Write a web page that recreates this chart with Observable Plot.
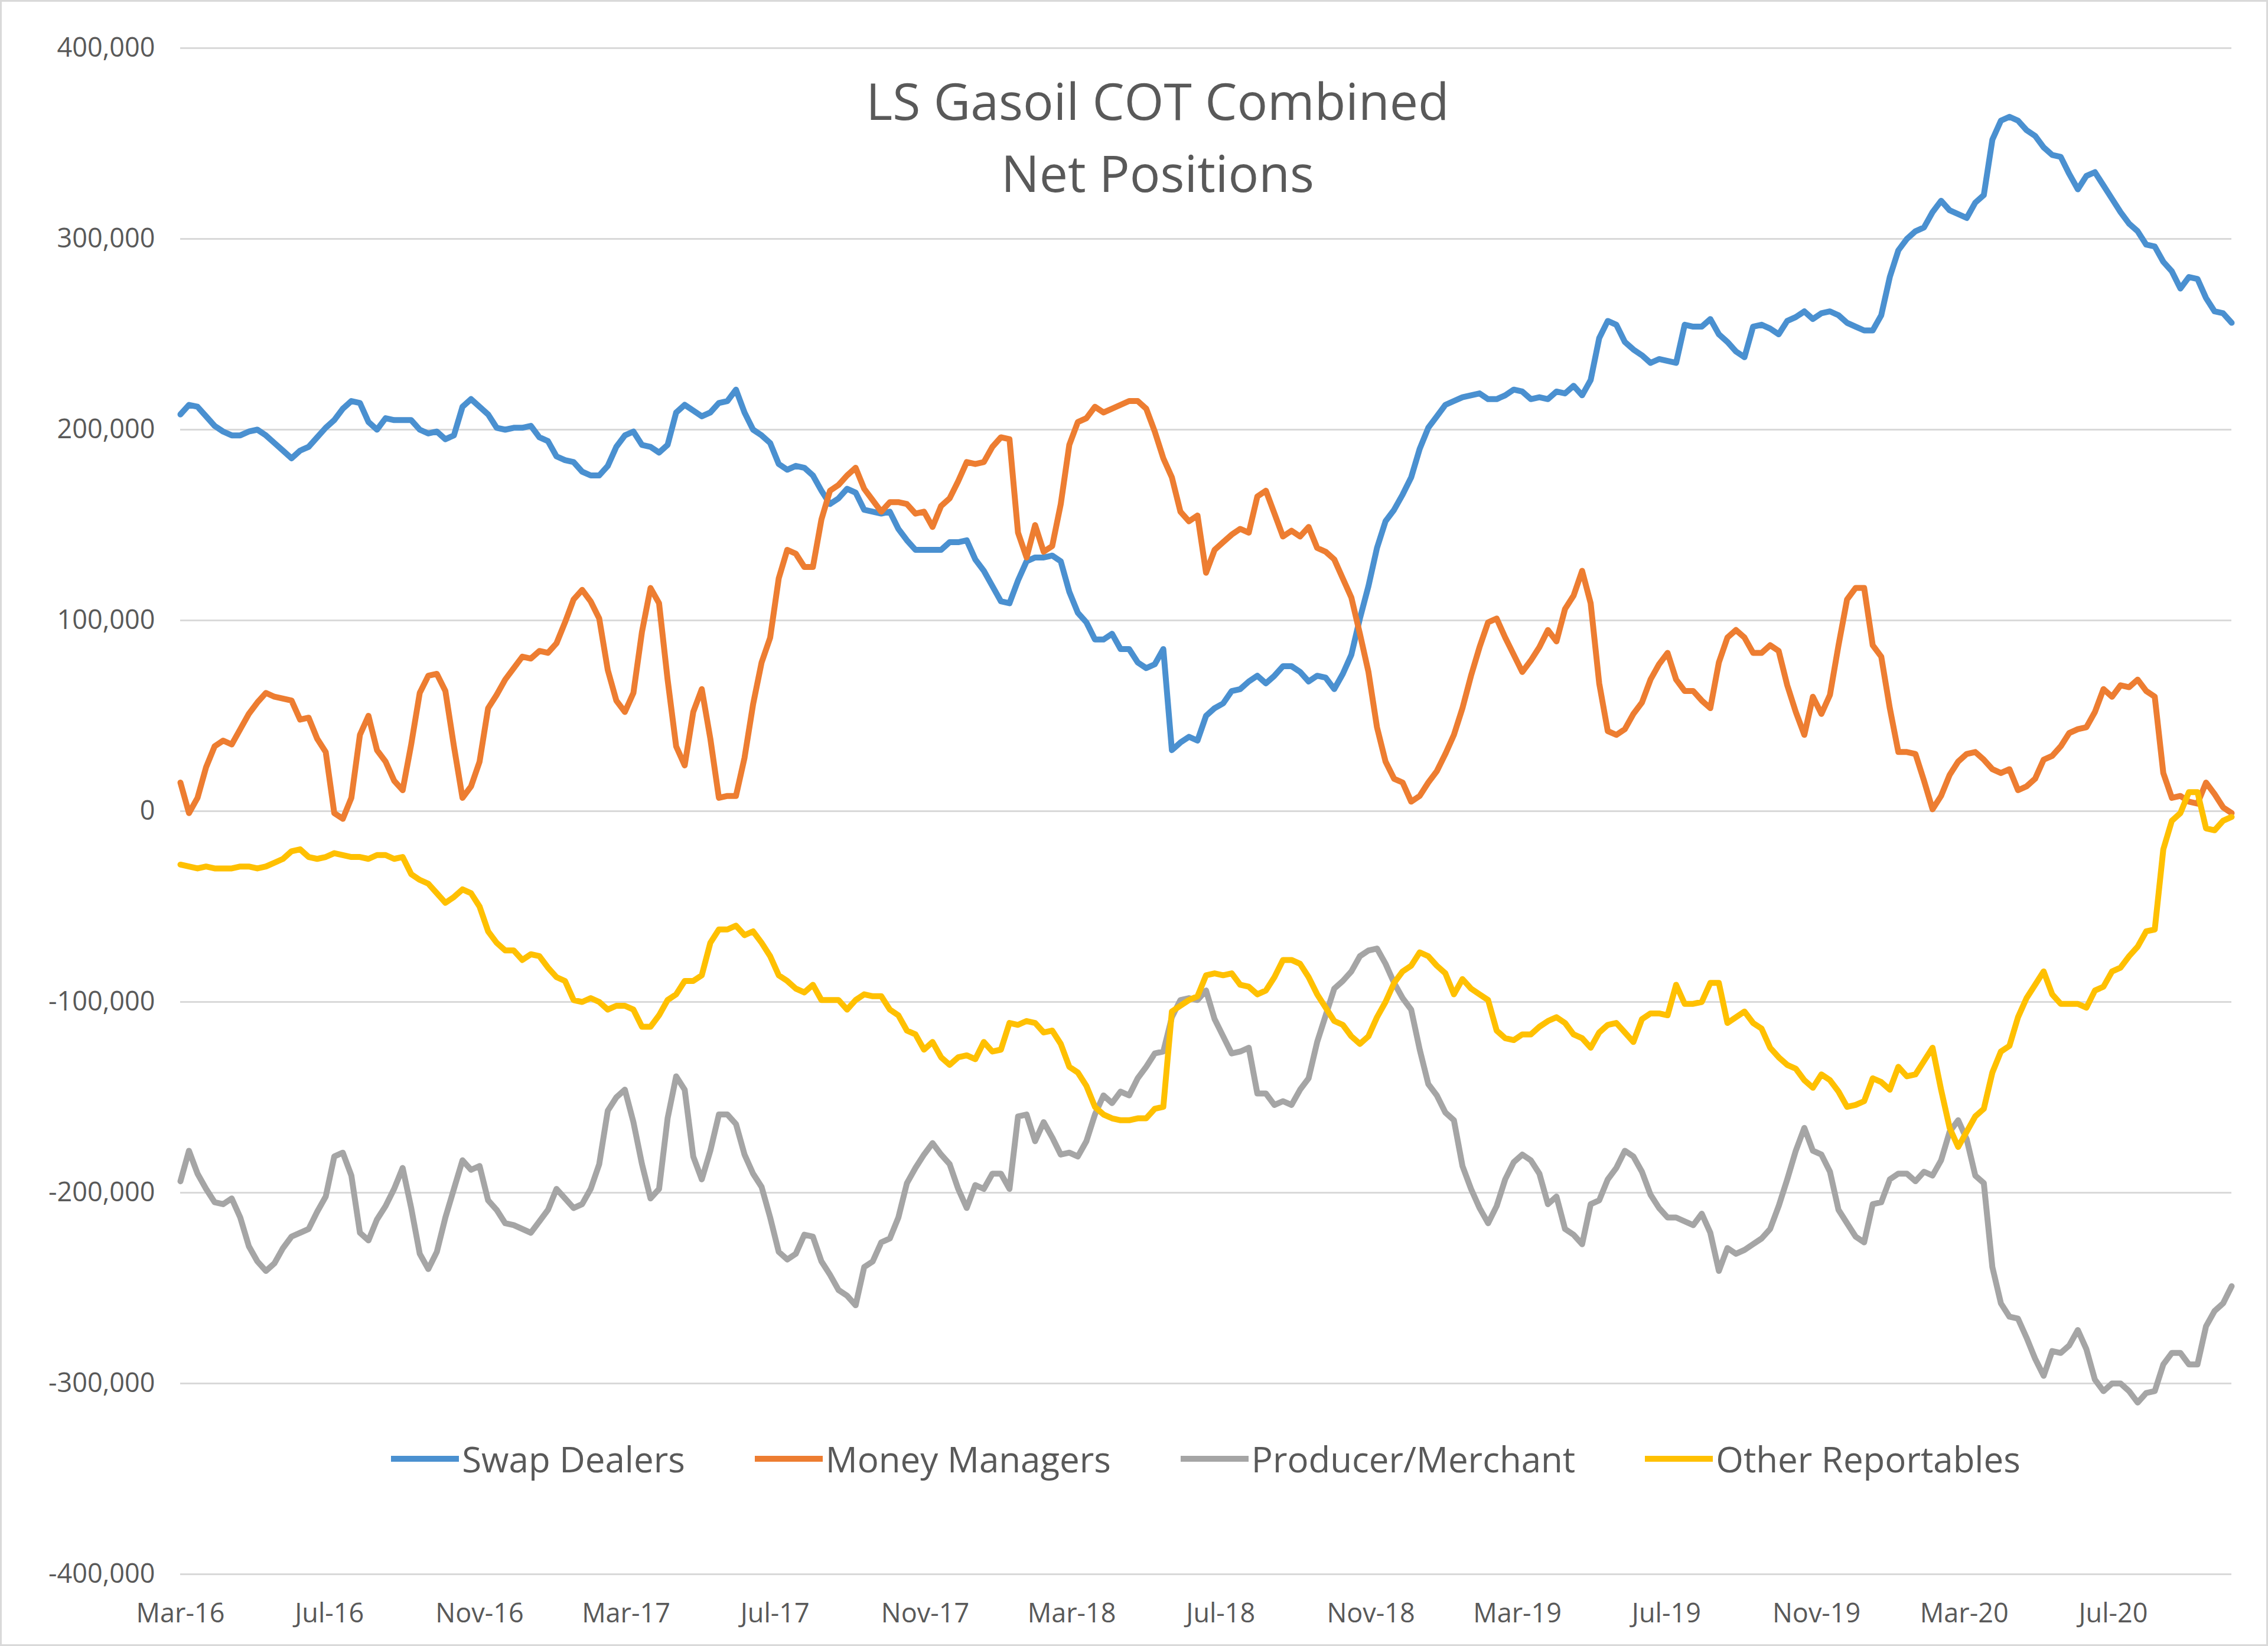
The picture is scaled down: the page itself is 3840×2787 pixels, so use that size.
<!DOCTYPE html>
<html>
<head>
<meta charset="utf-8">
<script src="https://cdn.jsdelivr.net/npm/d3@7"></script>
<script src="https://cdn.jsdelivr.net/npm/@observablehq/plot@0.6"></script>
<style>
  html, body { margin: 0; padding: 0; background: #fff; }
  #chart { position: relative; width: 3840px; height: 2787px; background: #fff; overflow: hidden;
           font-family: "Open Sans", sans-serif; color: #595959; }
  #frame { position: absolute; left: 0; top: 0; width: 3840px; height: 2787px; box-sizing: border-box;
           border: 3px solid #d9d9d9; pointer-events: none; }
  #title { position: absolute; left: 0; top: 109px; width: 3920px; text-align: center;
           font-size: 86px; line-height: 122px; color: #595959; }
  #legend { position: absolute; left: 305px; top: 2430px; width: 3473px; display: flex;
            justify-content: center; align-items: center; font-size: 60px; line-height: 80px; color: #595959; }
  .item { display: flex; align-items: center; margin: 0 59px; }
  .item svg { display: block; margin-right: 5px; }
</style>
</head>
<body>
<div id="chart">
  <div id="plot"></div>
  <div id="title">LS Gasoil COT Combined<br>Net Positions</div>
  <div id="legend"></div>
  <div id="frame"></div>
</div>
<script>
// Weekly reports (Tuesdays), first report and number of weeks
const firstReport = "2016-03-01";
const weekCount = 241;

// Net positions, thousands of contracts, one value per week
const swapDealers = [
  208,213,212,207,202,199,197,197,199,200,197,193,189,185,189,191,196,201,205,211,
  215,214,204,200,206,205,205,205,200,198,199,195,197,212,216,212,208,201,200,201,
  201,202,196,194,186,184,183,178,176,176,181,191,197,199,192,191,188,192,209,213,
  210,207,209,214,215,221,209,200,197,193,182,179,181,180,176,168,161,164,169,167,
  158,157,156,157,148,142,137,137,137,137,141,141,142,132,126,118,110,109,121,131,
  133,133,134,131,115,104,99,90,90,93,85,85,78,75,77,85,32,36,39,37,
  50,54,56.5,63,64,68,71,67,71,76,76,73,68,71,70,64,72,82,101,118,
  138,152,158,166,175,190,201,207,213,215,217,218,219,216,216,218,221,220,216,217,
  216,220,219,223,218,226,248,257,255,246,242,239,235,237,236,235,255,254,254,258,
  250,246,241,238,254,255,253,250,257,259,262,258,261,262,260,256,254,252,252,260,
  280,294,300,304,306,314,320,315,313,311,319,323,352,362,364,362,357,354,348,344,
  343,334,326,333,335,328,321,314,308,304,297,296,288,283,274,280,279,269,262,261,
  256
];
const moneyManagers = [
  15,-1,7,23,34,37,35,43,51,57,62,60,59,58,48,49,38,31,-1,-4,
  7,40,50,32,26,16,11,35,62,71,72,63,34,7,13,26,54,61,69,75,
  81,80,84,83,88,99,111,116,110,101,74,58,52,62,94,117,109,69,34,24,
  52,64,38,7,8,8,28,56,78,91,122,137,135,128,128,153,168,171,176,180,
  169,163,157,162,162,161,156,157,149,160,164,173,183,182,183,191,196,195,146,133,
  150,136,139,161,192,204,206,212,209,211,213,215,215,211,199,185,175,157,152,155,
  125,137,141,145,148,146,165,168,156,144,147,144,149,138,136,132,122,112,93,73,
  44,26,17,15,5,8,15,21,30,40,54,71,86,99,101,91,82,73,79,86,
  95,89,106,113,126,109,67,42,40,43,51,57,69,77,83,69,63,63,58,54,
  78,91,95,91,83,83,87,84,66,52,40,60,51,61,87,111,117,117,87,81,
  54,31,31,30,16,1,8,19,26,30,31,27,22,20,22,11,13,17,27,29,
  34,41,43,44,52,64,60,66,65,69,63,60,20,7,8,5,4,15,9,2,
  -1
];
const producerMerchant = [
  -194,-178,-190,-198,-205,-206,-203,-213,-228,-236,-241,-237,-229,-223,-221,-219,-210,-202,-181,-179,
  -191,-221,-225,-214,-207,-198,-187,-208,-232,-240,-231,-213,-198,-183,-188,-186,-204,-209,-216,-217,
  -219,-221,-215,-209,-198,-203,-208,-206,-198,-185,-157,-150,-146,-163,-185,-203,-198,-161,-139,-146,
  -181,-193,-178,-159,-159,-164,-180,-190,-197,-213,-231,-235,-232,-222,-223,-236,-243,-251,-254,-259,
  -239,-236,-226,-224,-213,-195,-187,-180,-174,-180,-185,-198,-208,-196,-198,-190,-190,-198,-160,-159,
  -173,-163,-171,-180,-179,-181,-173,-159,-149,-153,-147,-149,-140,-134,-127,-126,-108,-99,-98,-99,
  -94,-109,-118,-127,-126,-124,-148,-148,-154,-152,-154,-146,-140,-121,-107,-93,-89,-84,-76,-73,
  -72,-80,-90,-98,-104,-125,-143,-149,-158,-162,-186,-198,-208,-216,-207,-193,-184,-180,-183,-190,
  -206,-202,-219,-222,-227,-206,-204,-193,-187,-178,-181,-189,-201,-208,-213,-213,-215,-217,-211,-221,
  -241,-229,-232,-230,-227,-224,-219,-207,-193,-178,-166,-178,-180,-189,-209,-216,-223,-226,-206,-205,
  -193,-190,-190,-194,-189,-191,-183,-168,-162,-172,-191,-195,-239,-258,-265,-266,-276,-287,-296,-283,
  -284,-280,-272,-282,-298,-304,-300,-300,-304,-310,-305,-304,-290,-284,-284,-290,-290,-270,-262,-258,
  -249
];
const otherReportables = [
  -28,-29,-30,-29,-30,-30,-30,-29,-29,-30,-29,-27,-25,-21,-20,-24,-25,-24,-22,-23,
  -24,-24,-25,-23,-23,-25,-24,-33,-36,-38,-43,-48,-45,-41,-43,-50,-63,-69,-73,-73,
  -78,-75,-76,-82,-87,-89,-99,-100,-98,-100,-104,-102,-102,-104,-113,-113,-107,-99,-96,-89,
  -89,-86,-69,-62,-62,-60,-65,-63,-69,-76,-86,-89,-93,-95,-91,-99,-99,-99,-104,-99,
  -96,-97,-97,-104,-107,-115,-117,-125,-121,-129,-133,-129,-128,-130,-121,-126,-125,-111,-112,-110,
  -111,-116,-115,-122,-134,-137,-144,-155,-159,-161,-162,-162,-161,-161,-156,-155,-105,-102,-99,-97,
  -86,-85,-86,-85,-91,-92,-96,-94,-87,-78,-78,-80,-87,-96,-103,-110,-112,-118,-122,-118,
  -108,-100,-90,-84,-81,-74,-76,-81,-85,-96,-88,-93,-96,-99,-115,-119,-120,-117,-117,-113,
  -110,-108,-111,-117,-119,-124,-116,-112,-111,-116,-121,-109,-106,-106,-107,-91,-101,-101,-100,-90,
  -90,-111,-108,-105,-111,-114,-124,-129,-133,-135,-141,-145,-138,-141,-147,-155,-154,-152,-140,-142,
  -146,-134,-139,-138,-131,-124,-146,-166,-176,-168,-160,-156,-137,-126,-123,-108,-98,-91,-84,-96,
  -101,-101,-101,-103,-94,-92,-84,-82,-76,-71,-63,-62,-20,-5,-1,10,10,-9,-10,-5,
  -3
];

const seriesNames = ["Swap Dealers", "Money Managers", "Producer/Merchant", "Other Reportables"];
const seriesColors = ["#4a90d0", "#ed7d31", "#a5a5a5", "#ffc000"];
const seriesValues = [swapDealers, moneyManagers, producerMerchant, otherReportables];

// Axis ticks
const yTicks = [-400000, -300000, -200000, -100000, 0, 100000, 200000, 300000, 400000];
const tickEveryMonths = 4;

// ---- build ----
const start = new Date(firstReport + "T00:00:00Z");
const dates = d3.range(weekCount).map(i => d3.utcDay.offset(start, 7 * i));
const end = dates[dates.length - 1];
const xTicks = d3.utcMonth.range(start, d3.utcDay.offset(end, 1)).filter((d, i) => i % tickEveryMonths === 0);

const rows = [];
seriesNames.forEach((name, s) => {
  seriesValues[s].forEach((v, i) => rows.push({ series: name, date: dates[i], value: v * 1000 }));
});

const fmtNum = d3.format(",");
const yFormat = v => (v < 0 ? "-" : "") + fmtNum(Math.abs(v));

const lineMarks = seriesNames.map((name, s) =>
  Plot.line(rows.filter(r => r.series === name), {
    x: "date", y: "value", stroke: seriesColors[s], strokeWidth: 10,
    strokeLinejoin: "round", strokeLinecap: "round"
  })
);

const chart = Plot.plot({
  width: 3840,
  height: 2787,
  marginTop: 81,
  marginBottom: 122,
  marginLeft: 305,
  marginRight: 62,
  style: { fontFamily: "'Open Sans', sans-serif", fontSize: "45px", color: "#595959", background: "transparent", overflow: "visible" },
  x: { type: "utc", domain: [start, end] },
  y: { domain: [-400000, 400000] },
  marks: [
    Plot.gridY(yTicks, { stroke: "#d9d9d9", strokeOpacity: 1, strokeWidth: 3 }),
    Plot.axisY(yTicks, { tickSize: 0, tickPadding: 43, tickFormat: yFormat, fontSize: 45, label: null, fill: "#595959" }),
    Plot.axisX(xTicks, { tickSize: 0, tickPadding: 50, tickFormat: d3.utcFormat("%b-%y"), fontSize: 45, label: null, fill: "#595959" }),
    ...lineMarks
  ]
});
document.getElementById("plot").appendChild(chart);

// legend with line swatches
const legend = document.getElementById("legend");
seriesNames.forEach((name, s) => {
  const item = document.createElement("div");
  item.className = "item";
  item.innerHTML = `<svg width="115" height="12"><line x1="0" x2="115" y1="6" y2="6" stroke="${seriesColors[s]}" stroke-width="10"/></svg><span>${name}</span>`;
  legend.appendChild(item);
});
</script>
</body>
</html>
